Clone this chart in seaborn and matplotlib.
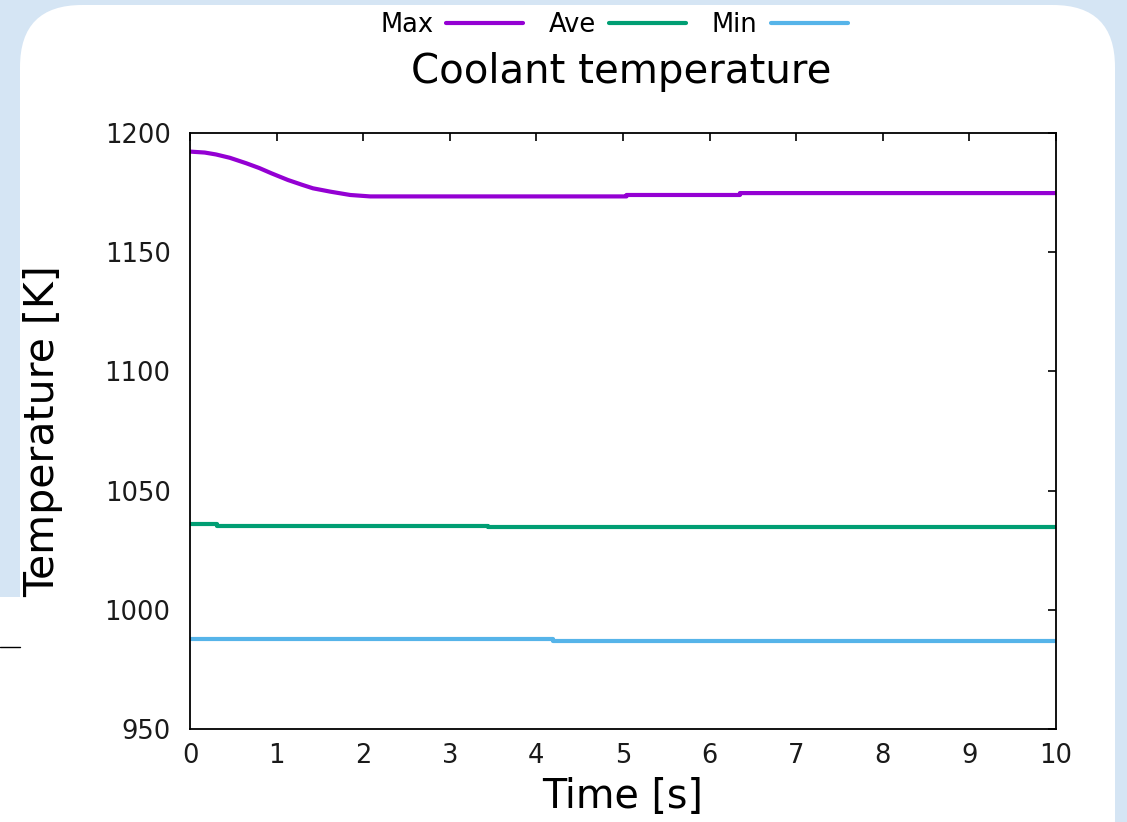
import numpy as np
import pandas as pd
import matplotlib
matplotlib.use("Agg")
import matplotlib.pyplot as plt
import seaborn as sns
from matplotlib.patches import FancyBboxPatch, Rectangle
from matplotlib.lines import Line2D

# ---- data ----
max_t = [0, 0.17, 0.30, 0.46, 0.65, 0.80, 0.94, 1.13, 1.30, 1.42, 1.62, 1.85, 2.08,
         5.04, 5.04, 6.35, 6.35, 10]
max_v = [1192.2, 1191.8, 1191.0, 1189.6, 1187.3, 1185.3, 1183.1, 1180.3, 1178.2, 1176.8,
         1175.4, 1174.0, 1173.4, 1173.4, 1174.0, 1174.0, 1174.8, 1174.8]
ave_t = [0, 0.31, 3.44, 10]
ave_v = [1035.8, 1035.2, 1034.6, 1034.6]
min_t = [0, 4.19, 10]
min_v = [987.8, 987.1, 987.1]

names = ["Max", "Ave", "Min"]
colors = {"Max": "#9400d3", "Ave": "#009e73", "Min": "#56b4e9"}
xticks = list(range(0, 11))
yticks = [950, 1000, 1050, 1100, 1150, 1200]

sns.set_theme(style="white")
plt.rcParams["font.family"] = ["DejaVu Sans"]
plt.rcParams["text.color"] = "black"
plt.rcParams["axes.labelcolor"] = "black"

W, H = 1127, 822
fig = plt.figure(figsize=(W / 100, H / 100), dpi=100)
fig.patch.set_facecolor("#d5e5f4")

# white rounded card (background)
card = FancyBboxPatch((20 / W, -60 / H), 1095 / W, 877 / H,
                      boxstyle="round,pad=0,rounding_size=0.055",
                      transform=fig.transFigure, facecolor="white", edgecolor="none",
                      mutation_aspect=W / H, zorder=-10)
fig.add_artist(card)
fig.add_artist(Rectangle((0, 0), 22 / W, 1 - 597 / H, transform=fig.transFigure,
                         facecolor="white", edgecolor="none", zorder=-9))
fig.add_artist(Line2D([0, 20 / W], [1 - 647 / H, 1 - 647 / H], transform=fig.transFigure,
                      color="black", lw=1, zorder=-8))

ax = fig.add_axes([190 / W, 1 - 729 / H, (1056 - 190) / W, (729 - 133) / H])
ax.set_zorder(5)
ax.set_facecolor("white")

df_max = pd.DataFrame({"t": max_t, "v": max_v})
df_ave = pd.DataFrame({"t": ave_t, "v": ave_v})
df_min = pd.DataFrame({"t": min_t, "v": min_v})

sns.lineplot(data=df_max, x="t", y="v", ax=ax, color=colors["Max"], lw=3, estimator=None,
             label="Max")
sns.lineplot(data=df_ave, x="t", y="v", ax=ax, color=colors["Ave"], lw=3, estimator=None,
             label="Ave", drawstyle="steps-post")
sns.lineplot(data=df_min, x="t", y="v", ax=ax, color=colors["Min"], lw=3, estimator=None,
             label="Min", drawstyle="steps-post")

ax.set_xlim(0, 10)
ax.set_ylim(950, 1200)
ax.set_xticks(xticks)
ax.set_yticks(yticks)
for s in ax.spines.values():
    s.set_visible(True)
    s.set_color("black")
    s.set_linewidth(1.3)
ax.tick_params(axis="both", direction="in", length=6, width=1.2, colors="black",
               top=True, right=True, labelsize=18.5, labelcolor="#1a1a1a")
ax.tick_params(axis="y", pad=14)
ax.tick_params(axis="x", pad=10)
ax.set_xlabel("Time [s]", fontsize=28.5, labelpad=6)
ax.set_ylabel("Temperature [K]", fontsize=29.5, labelpad=30)

fig.text(621 / W, 1 - 72 / H, "Coolant temperature", fontsize=29, ha="center", va="center",
         color="black")

handles, labels = ax.get_legend_handles_labels()
ax.legend_.remove()
fig.legend(handles, labels, loc="center", bbox_to_anchor=(614 / W, 1 - 25 / H), ncol=3,
           frameon=False, markerfirst=False, fontsize=18.5, handlelength=3.0,
           handletextpad=0.5, columnspacing=1.0, labelcolor="black")

fig.savefig("out.png", dpi=100, facecolor=fig.get_facecolor())
